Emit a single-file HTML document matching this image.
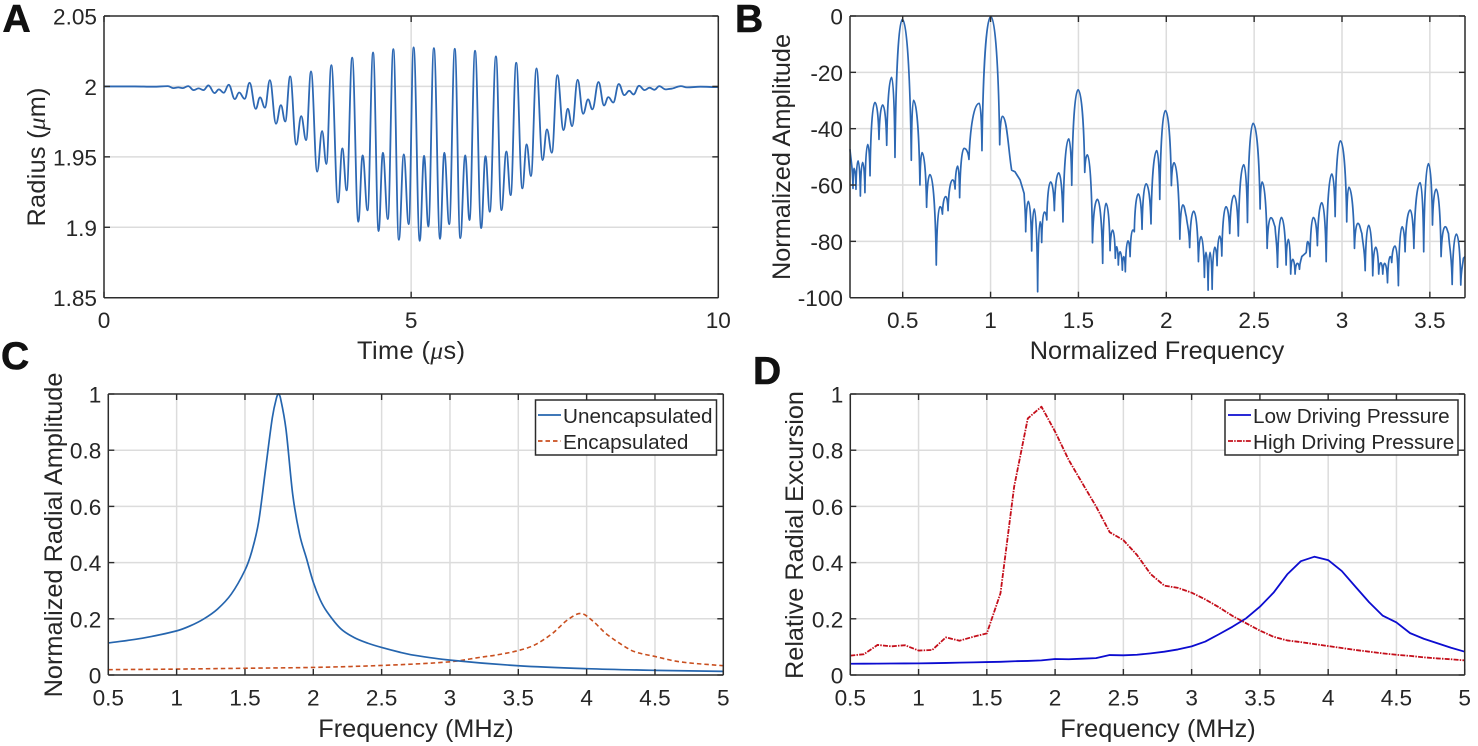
<!DOCTYPE html>
<html lang="en">
<head>
<meta charset="utf-8">
<title>Bubble radial response figure</title>
<style>
  html, body { margin: 0; padding: 0; background: #fff; width: 1478px; height: 746px; overflow: hidden; }
  svg { display: block; filter: blur(0.3px); }
  text { font-family: "Liberation Sans", Arial, sans-serif; fill: #262626; }
  .tick-label { font-size: 22.6px; }
  .axis-title { font-size: 25.3px; }
  .legend-text { font-size: 20.7px; }
  .panel-letter { font-size: 39px; font-weight: 700; fill: #111; stroke: #111; stroke-width: .6px; }
  .mu { font-family: "Liberation Serif", serif; font-style: italic; }
</style>
</head>
<body>
<svg id="figure" xmlns="http://www.w3.org/2000/svg" width="1478" height="746" viewBox="0 0 1478 746">
  <rect x="0" y="0" width="1478" height="746" fill="#fff"/>

  <g id="panel-a"></g>
  <g id="panel-b"></g>
  <g id="panel-c"></g>
  <g id="panel-d"></g>

  <text class="panel-letter" x="2.5" y="32">A</text>
  <text class="panel-letter" x="735" y="32">B</text>
  <text class="panel-letter" x="1" y="369">C</text>
  <text class="panel-letter" x="753" y="384">D</text>

  <text class="axis-title" x="411" y="359" text-anchor="middle" textLength="108">Time (<tspan class="mu">μ</tspan>s)</text>
  <text class="axis-title" transform="translate(45,157) rotate(-90)" text-anchor="middle" textLength="139">Radius (<tspan class="mu">μ</tspan>m)</text>
  <text class="axis-title" x="1157" y="359" text-anchor="middle">Normalized Frequency</text>
  <text class="axis-title" transform="translate(790,157) rotate(-90)" text-anchor="middle">Normalized Amplitude</text>
  <text class="axis-title" x="416" y="737" text-anchor="middle">Frequency (MHz)</text>
  <text class="axis-title" transform="translate(62,535) rotate(-90)" text-anchor="middle">Normalized Radial Amplitude</text>
  <text class="axis-title" x="1158" y="737" text-anchor="middle">Frequency (MHz)</text>
  <text class="axis-title" transform="translate(803,535) rotate(-90)" text-anchor="middle" textLength="288">Relative Radial Excursion</text>

  <g>
    <rect x="535.5" y="400" width="181" height="55" fill="#fff" stroke="#2b2b2b" stroke-width="1.5"/>
    <line x1="538" y1="415" x2="561" y2="415" stroke="#2565ae" stroke-width="1.7"/>
    <text class="legend-text" x="563" y="423">Unencapsulated</text>
    <line x1="538" y1="441" x2="561" y2="441" stroke="#c94f1f" stroke-width="1.7" stroke-dasharray="4.5 3"/>
    <text class="legend-text" x="563" y="449">Encapsulated</text>
  </g>
  <g>
    <rect x="1225" y="400" width="233" height="55" fill="#fff" stroke="#2b2b2b" stroke-width="1.5"/>
    <line x1="1228" y1="415" x2="1251" y2="415" stroke="#0c0cd0" stroke-width="1.8"/>
    <text class="legend-text" x="1253" y="423">Low Driving Pressure</text>
    <line x1="1228" y1="441" x2="1251" y2="441" stroke="#c40e1a" stroke-width="1.8" stroke-dasharray="5 1.2 1.5 1.2"/>
    <text class="legend-text" x="1253" y="449">High Driving Pressure</text>
  </g>
</svg>

<script>
// ---------- Panel A data: radius vs time (extrema) ----------
const aTimeUs = [
  0,.5,.8,1.04,1.13,1.21,1.28,1.37,1.46,1.54,1.62,
  1.70,1.80,1.87,1.95, 2.03,2.13,2.20,2.29, 2.37,2.47,2.54,2.62, 2.70,2.80,2.88,2.95,
  3.03,3.13,3.21,3.29, 3.37,3.47,3.55,3.62, 3.70,3.81,3.88,3.95, 4.04,4.14,4.21,4.29,
  4.38,4.47,4.54,4.62, 4.71,4.80,4.88,4.96, 5.04,5.14,5.21,5.28, 5.37,5.47,5.54,5.62,
  5.71,5.80,5.88,5.95, 6.04,6.14,6.21,6.28, 6.38,6.47,6.55,6.62, 6.71,6.81,6.88,6.95,
  7.04,7.14,7.21,7.29, 7.38,7.48,7.55,7.62, 7.71,7.80,7.88,7.95, 8.05,8.14,8.21,8.29,
  8.38,8.47,8.55,8.62, 8.71,8.80,8.88,8.96,
  9.04,9.14,9.22,9.39,9.49,9.71,10
];
const aRadiusUm = [
  2,2,1.9998,2.0002,1.9988,1.9993,1.9988,2.0002,1.9974,1.9986,1.9974,
  2.0007,1.9953,1.9979,1.9955, 2.0012,1.9910,1.9957,1.9912, 2.0026,1.9841,1.9922,1.9849, 2.0045,1.9735,1.9867,1.9751,
  2.0071,1.9586,1.9789,1.9619, 2.0107,1.9394,1.9683,1.9449, 2.0151,1.9176,1.9560,1.9262, 2.0204,1.9039,1.9510,1.9120,
  2.0241,1.8973,1.9529,1.9058, 2.0265,1.8911,1.9517,1.9022, 2.0277,1.8904,1.9508,1.9006, 2.0272,1.8918,1.9529,1.9022,
  2.0267,1.8923,1.9510,1.9051, 2.0253,1.8994,1.9505,1.9110, 2.0213,1.9122,1.9538,1.9228, 2.0168,1.9276,1.9588,1.9363,
  2.0128,1.9477,1.9695,1.9529, 2.0080,1.9690,1.9841,1.9718, 2.0047,1.9806,1.9908,1.9837, 2.0031,1.9865,1.9924,1.9886,
  2.0017,1.9938,1.9969,1.9943, 2.0005,1.9974,1.9991,1.9976,
  2.0002,1.9979,1.9983,2.0002,1.9993,1.9998,1.9995
];
const aXTicks = [0,5,10];
const aYTicks = [1.85,1.9,1.95,2,2.05];

// ---------- Panel B data: normalized spectrum ----------
const bFrequency = [
  .2,.217,.223,.234,.246,.259,.272,.285,.301,.314,.342,.365,.386,.409,.437,.456,.498,
  .549,.561,.598,.610,.636,.655,.691,.712,.726,.745,.758,.784,.798,.813,.824,.849,.877,.936,.951,1.001,
  1.052,1.067,1.120,1.139,1.168,1.191,1.200,1.215,1.234,1.249,1.268,1.282,1.291,1.306,1.320,1.342,1.363,1.388,1.412,1.445,1.462,1.498,
  1.536,1.551,1.580,1.608,1.638,1.657,1.680,1.695,1.710,1.718,1.727,1.737,1.750,1.758,1.767,1.782,1.794,1.809,1.818,1.841,1.862,1.885,1.913,1.946,1.963,1.995,
  2.029,2.044,2.077,2.094,2.114,2.133,2.156,2.183,2.198,2.217,2.226,2.238,2.249,2.261,2.276,2.289,2.304,2.316,2.340,2.361,2.386,2.410,2.441,2.462,2.494,
  2.534,2.545,2.574,2.595,2.619,2.633,2.655,2.682,2.695,2.708,2.720,2.733,2.746,2.758,2.771,2.796,2.805,2.818,2.837,2.860,2.885,2.910,2.942,2.961,2.991,
  3.027,3.039,3.071,3.090,3.113,3.132,3.152,3.175,3.192,3.209,3.221,3.232,3.243,3.259,3.274,3.283,3.302,3.321,3.342,3.359,3.388,3.409,3.445,3.465,3.492,
  3.515,3.536,3.564,3.587,3.606,3.627,3.651,3.676,3.691,3.7
];
const bAmplitude = [
  -47.3,-61.2,-54.1,-61.5,-51.4,-63.9,-52.0,-62.7,-45.6,-56.7,-30.7,-43.8,-31.6,-45.9,-21.8,-50.2,-1.2,
  -51.2,-29.9,-60.0,-48.5,-67.9,-56.3,-88.4,-67.7,-70.3,-64.1,-69.1,-58.2,-61.4,-53.3,-64.5,-47.0,-50.9,-31.0,-47.8,-0.2,
  -45.7,-35.6,-54.7,-55.3,-58.2,-63.0,-76.6,-65.8,-83.4,-68.5,-97.9,-73.0,-80.4,-69.6,-72.4,-58.9,-69.1,-55.7,-73.1,-43.6,-60.1,-26.2,
  -55.5,-49.3,-80.5,-65.1,-87.8,-66.5,-83.3,-76.0,-86.0,-81.9,-88.4,-83.7,-90.2,-85.4,-90.8,-79.8,-85.4,-76.0,-76.6,-63.2,-75.7,-59.6,-73.8,-47.8,-65.1,-33.6,
  -60.2,-52.1,-79.2,-67.1,-71.2,-82.2,-69.3,-87.2,-78.3,-92.8,-83.9,-97.3,-83.9,-97.0,-82.1,-88.6,-78.1,-85.2,-67.7,-77.2,-63.7,-78.1,-52.8,-73.3,-38.1,
  -68.5,-58.9,-82.5,-71.6,-74.8,-89.2,-71.5,-88.4,-79.3,-91.6,-86.4,-91.6,-87.8,-89.9,-85.4,-84.0,-80.1,-85.4,-71.5,-81.5,-66.3,-87.2,-56.1,-71.2,-44.3,
  -73.1,-60.8,-82.5,-73.6,-77.2,-90.4,-74.3,-92.2,-82.1,-91.6,-87.6,-91.6,-87.8,-94.7,-85.4,-87.5,-81.7,-95.7,-74.8,-83.7,-68.9,-82.5,-59.2,-83.7,-52.4,
  -74.2,-61.5,-85.4,-74.8,-77.2,-95.3,-77.4,-95.5,-86.0,-85.4
];
const bXTicks = [.5,1,1.5,2,2.5,3,3.5];
const bYTicks = [-100,-80,-60,-40,-20,0];

// ---------- Panel C data ----------
const cUnencapFreq = [.5,.75,1,1.1,1.2,1.3,1.4,1.5,1.55,1.6,1.65,1.7,1.73,1.745,1.76,1.8,1.85,1.9,1.95,2,2.05,2.1,2.2,2.3,2.4,2.5,2.634,2.73,3,3.5,4,4.5,5];
const cUnencapAmp  = [.114,.131,.157,.175,.2,.235,.288,.373,.44,.545,.73,.915,.985,1,.985,.875,.64,.5,.415,.33,.268,.225,.165,.133,.113,.098,.081,.071,.053,.033,.0225,.0166,.013];
const cEncapFreq = [.5,1,1.5,2,2.5,3,3.22,3.35,3.5,3.62,3.75,3.86,3.96,4.05,4.14,4.26,4.35,4.5,4.68,5];
const cEncapAmp  = [.019,.021,.024,.027,.034,.047,.0629,.072,.087,.107,.148,.196,.219,.19,.148,.107,.083,.066,.047,.033];
const cdXTicks = [.5,1,1.5,2,2.5,3,3.5,4,4.5,5];
const cdYTicks = [0,.2,.4,.6,.8,1];

// ---------- Panel D data ----------
const dFrequency = [.5,.6,.7,.8,.9,1,1.1,1.2,1.3,1.4,1.5,1.6,1.7,1.8,1.9,2,2.1,2.2,2.3,2.4,2.5,2.6,2.7,2.8,2.9,3,3.1,3.2,3.3,3.4,3.5,3.6,3.7,3.8,3.9,4,4.1,4.2,4.3,4.4,4.5,4.6,4.7,4.8,4.9,5];
const dLowPressure = [.04,.0402,.0405,.041,.0412,.0415,.042,.043,.044,.045,.046,.047,.049,.05,.052,.057,.056,.058,.06,.071,.07,.072,.077,.083,.091,.102,.119,.145,.172,.202,.243,.293,.358,.405,.421,.409,.37,.314,.259,.211,.187,.149,.129,.113,.097,.083];
const dHighPressure = [.069,.074,.107,.102,.106,.087,.089,.134,.122,.136,.148,.291,.67,.913,.955,.866,.765,.682,.6,.508,.48,.427,.359,.318,.31,.293,.269,.241,.21,.184,.158,.136,.123,.117,.11,.103,.096,.089,.083,.077,.072,.068,.063,.059,.056,.052];

// ---------- Helpers ----------
const NS = 'http://www.w3.org/2000/svg';
const GRID = '#dcdcdc', FRAME = '#2c2c2c';

function linear(d0, d1, r0, r1) {
  return function (v) { return r0 + (v - d0) / (d1 - d0) * (r1 - r0); };
}
function f(n) { return n.toFixed(2); }

function addLine(parent, x1, y1, x2, y2, color, width, name) {
  const el = document.createElementNS(NS, 'line');
  
  
  el.setAttribute('x1', f(x1));
  el.setAttribute('y1', f(y1));
  el.setAttribute('x2', f(x2));
  el.setAttribute('y2', f(y2));
  el.setAttribute('stroke', color);
  el.setAttribute('stroke-width', width);
  parent.appendChild(el);
}
function addLabel(parent, x, y, str, anchor, name) {
  const el = document.createElementNS(NS, 'text');
  
  
  el.setAttribute('class', 'tick-label');
  el.setAttribute('x', f(x));
  el.setAttribute('y', f(y));
  el.setAttribute('text-anchor', anchor);
  el.textContent = str;
  parent.appendChild(el);
}
function addSeries(parent, d, color, width, dash, name) {
  const el = document.createElementNS(NS, 'path');
  
  
  el.setAttribute('d', d);
  el.setAttribute('fill', 'none');
  el.setAttribute('stroke', color);
  el.setAttribute('stroke-width', width);
  el.setAttribute('stroke-linejoin', 'round');
  if (dash) el.setAttribute('stroke-dasharray', dash);
  parent.appendChild(el);
}

function points(xs, ys, sx, sy) {
  return xs.map(function (v, i) { return { x: sx(v), y: sy(ys[i]) }; });
}
function polyPath(p) {
  return p.map(function (q, i) { return (i ? 'L' : 'M') + f(q.x) + ' ' + f(q.y); }).join('');
}
// smooth oscillation through extrema: flat tangents at every vertex
function extremaPath(p) {
  let d = 'M' + f(p[0].x) + ' ' + f(p[0].y);
  for (let i = 1; i < p.length; i++) {
    const a = p[i - 1], b = p[i], k = (b.x - a.x) * 0.4;
    d += 'C' + f(a.x + k) + ' ' + f(a.y) + ' ' + f(b.x - k) + ' ' + f(b.y) + ' ' + f(b.x) + ' ' + f(b.y);
  }
  return d;
}
// spectrum lobes: rounded at peaks, sharp at nulls
function lobePath(p) {
  function kind(i) {
    if (i === 0 || i === p.length - 1) return 'c';
    if (p[i].y < p[i - 1].y && p[i].y < p[i + 1].y) return 'p';
    if (p[i].y > p[i - 1].y && p[i].y > p[i + 1].y) return 'n';
    return 'c';
  }
  let d = 'M' + f(p[0].x) + ' ' + f(p[0].y);
  for (let i = 1; i < p.length; i++) {
    const a = p[i - 1], b = p[i], dx = b.x - a.x, dy = b.y - a.y;
    const ka = kind(i - 1), kb = kind(i);
    let c1x, c1y, c2x, c2y;
    if (ka === 'p') { c1x = a.x + .5 * dx; c1y = a.y; }
    else if (ka === 'n') { c1x = a.x + .12 * dx; c1y = a.y + .6 * dy; }
    else { c1x = a.x + .33 * dx; c1y = a.y + .33 * dy; }
    if (kb === 'p') { c2x = b.x - .5 * dx; c2y = b.y; }
    else if (kb === 'n') { c2x = b.x - .12 * dx; c2y = b.y - .6 * dy; }
    else { c2x = b.x - .33 * dx; c2y = b.y - .33 * dy; }
    d += 'C' + f(c1x) + ' ' + f(c1y) + ' ' + f(c2x) + ' ' + f(c2y) + ' ' + f(b.x) + ' ' + f(b.y);
  }
  return d;
}
// Catmull-Rom spline with non-uniform guard for the resonance curves
function smoothPath(p) {
  let d = 'M' + f(p[0].x) + ' ' + f(p[0].y);
  for (let i = 0; i < p.length - 1; i++) {
    const p0 = p[Math.max(i - 1, 0)], p1 = p[i], p2 = p[i + 1], p3 = p[Math.min(i + 2, p.length - 1)];
    const dx = p2.x - p1.x;
    const m1 = (p2.y - p0.y) / Math.max(p2.x - p0.x, .01), m2 = (p3.y - p1.y) / Math.max(p3.x - p1.x, .01);
    d += 'C' + f(p1.x + dx / 3) + ' ' + f(p1.y + m1 * dx / 3) + ' ' + f(p2.x - dx / 3) + ' ' + f(p2.y - m2 * dx / 3) + ' ' + f(p2.x) + ' ' + f(p2.y);
  }
  return d;
}

function drawGrid(g, box, sx, sy, xTicks, yTicks) {
  xTicks.forEach(function (v) {
    const x = sx(v);
    if (x > box.l + 1 && x < box.r - 1) addLine(g, x, box.t, x, box.b, GRID, 1.5, 'x-grid-line');
  });
  yTicks.forEach(function (v) {
    const y = sy(v);
    if (y > box.t + 1 && y < box.b - 1) addLine(g, box.l, y, box.r, y, GRID, 1.5, 'y-grid-line');
  });
}
function drawFrame(g, box, sx, sy, xTicks, yTicks, xLabelY) {
  const T = 6;
  xTicks.forEach(function (v) {
    const x = sx(v);
    addLine(g, x, box.b, x, box.b - T, FRAME, 1.4, 'x-tick-bottom');
    addLine(g, x, box.t, x, box.t + T, FRAME, 1.4, 'x-tick-top');
    addLabel(g, x, xLabelY, String(v), 'middle', 'x-tick-label');
  });
  yTicks.forEach(function (v) {
    const y = sy(v);
    addLine(g, box.l, y, box.l + T, y, FRAME, 1.4, 'y-tick-left');
    addLine(g, box.r, y, box.r - T, y, FRAME, 1.4, 'y-tick-right');
    addLabel(g, box.l - 7, y + 8.5, String(v), 'end', 'y-tick-label');
  });
  addLine(g, box.l, box.t, box.r, box.t, FRAME, 1.5, 'axes-top-edge');
  addLine(g, box.l, box.b, box.r, box.b, FRAME, 1.5, 'axes-bottom-edge');
  addLine(g, box.l, box.t, box.l, box.b, FRAME, 1.5, 'axes-left-edge');
  addLine(g, box.r, box.t, box.r, box.b, FRAME, 1.5, 'axes-right-edge');
}

// ---------- Panel A ----------
(function () {
  const g = document.getElementById('panel-a');
  const box = { l: 104, r: 718.3, t: 16, b: 297.7 };
  const sx = linear(0, 10, box.l, box.r), sy = linear(1.85, 2.05, box.b, box.t);
  drawGrid(g, box, sx, sy, aXTicks, aYTicks);
  addSeries(g, extremaPath(points(aTimeUs, aRadiusUm, sx, sy)), '#2d68b3', 1.8, null, 'radius-line');
  drawFrame(g, box, sx, sy, aXTicks, aYTicks, 328);
})();

// ---------- Panel B ----------
(function () {
  const g = document.getElementById('panel-b');
  const box = { l: 850, r: 1465, t: 16, b: 297.7 };
  const sx = linear(.2, 3.7, box.l, box.r), sy = linear(-100, 0, box.b, box.t);
  drawGrid(g, box, sx, sy, bXTicks, bYTicks);
  addSeries(g, lobePath(points(bFrequency, bAmplitude, sx, sy)), '#2d68b3', 1.7, null, 'spectrum-line');
  drawFrame(g, box, sx, sy, bXTicks, bYTicks, 328);
})();

// ---------- Panel C ----------
(function () {
  const g = document.getElementById('panel-c');
  const box = { l: 108.3, r: 723.3, t: 394, b: 675 };
  const sx = linear(.5, 5, box.l, box.r), sy = linear(0, 1, box.b, box.t);
  drawGrid(g, box, sx, sy, cdXTicks, cdYTicks);
  addSeries(g, smoothPath(points(cEncapFreq, cEncapAmp, sx, sy)), '#c94f1f', 1.6, '4.5 3', 'encapsulated-line');
  addSeries(g, smoothPath(points(cUnencapFreq, cUnencapAmp, sx, sy)), '#2565ae', 1.7, null, 'unencapsulated-line');
  drawFrame(g, box, sx, sy, cdXTicks, cdYTicks, 705.5);
})();

// ---------- Panel D ----------
(function () {
  const g = document.getElementById('panel-d');
  const box = { l: 850.3, r: 1464.7, t: 394, b: 675 };
  const sx = linear(.5, 5, box.l, box.r), sy = linear(0, 1, box.b, box.t);
  drawGrid(g, box, sx, sy, cdXTicks, cdYTicks);
  addSeries(g, polyPath(points(dFrequency, dLowPressure, sx, sy)), '#0c0cd0', 1.8, null, 'low-pressure-line');
  addSeries(g, polyPath(points(dFrequency, dHighPressure, sx, sy)), '#c40e1a', 1.8, '5 1.2 1.5 1.2', 'high-pressure-line');
  drawFrame(g, box, sx, sy, cdXTicks, cdYTicks, 705.5);
})();
</script>
</body>
</html>
